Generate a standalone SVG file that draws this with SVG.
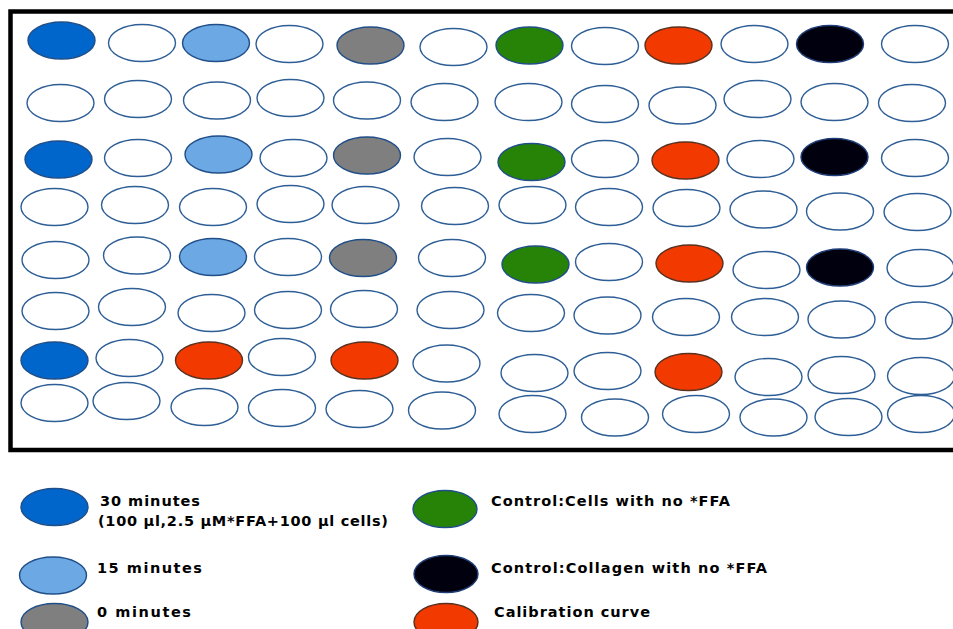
<svg xmlns="http://www.w3.org/2000/svg" width="953" height="629" viewBox="0 0 953 629">
<style>
  ellipse { stroke: #2E5E96; stroke-width: 1.4; }
  .w { fill: #ffffff; }
  .b30 { fill: #0066CC; stroke: #1F4E88; }
  .b15 { fill: #6CA9E4; stroke: #1F4E88; }
  .g0 { fill: #7F7F7F; stroke: #1F4E88; }
  .ctl { fill: #268307; stroke: #1F4E88; }
  .col { fill: #00000F; stroke: #1F3E78; }
  .cal { fill: #F23A00; stroke: #5A3020; }
  text { font-family: "DejaVu Sans", "Liberation Sans", sans-serif; font-weight: bold; font-size: 14.5px; fill: #000000; }
</style>
<rect x="0" y="0" width="953" height="629" fill="#ffffff"/>
<rect id="plate" x="10.5" y="11.5" width="960" height="438.5" fill="none" stroke="#000000" stroke-width="4.5"/>
<g id="wells">
  <!-- row 1 -->
  <g id="r1c1"><ellipse class="b30" cx="61.5" cy="40.5" rx="33.5" ry="18.5"/></g>
  <g id="r1c2"><ellipse class="w" cx="142" cy="43" rx="33.5" ry="18.5"/></g>
  <g id="r1c3"><ellipse class="b15" cx="216" cy="43" rx="33.5" ry="18.5"/></g>
  <g id="r1c4"><ellipse class="w" cx="289.5" cy="44" rx="33.5" ry="18.5"/></g>
  <g id="r1c5"><ellipse class="g0" cx="370.5" cy="45.5" rx="33.5" ry="18.5"/></g>
  <g id="r1c6"><ellipse class="w" cx="453.5" cy="47" rx="33.5" ry="18.5"/></g>
  <g id="r1c7"><ellipse class="ctl" cx="529.5" cy="45.5" rx="33.5" ry="18.5"/></g>
  <g id="r1c8"><ellipse class="w" cx="605" cy="46" rx="33.5" ry="18.5"/></g>
  <g id="r1c9"><ellipse class="cal" cx="678.5" cy="45.5" rx="33.5" ry="18.5"/></g>
  <g id="r1c10"><ellipse class="w" cx="754.5" cy="44" rx="33.5" ry="18.5"/></g>
  <g id="r1c11"><ellipse class="col" cx="830" cy="44" rx="33.5" ry="18.5"/></g>
  <g id="r1c12"><ellipse class="w" cx="915" cy="44" rx="33.5" ry="18.5"/></g>
  <!-- row 2 -->
  <g id="r2c1"><ellipse class="w" cx="60.5" cy="103" rx="33.5" ry="18.5"/></g>
  <g id="r2c2"><ellipse class="w" cx="138" cy="99" rx="33.5" ry="18.5"/></g>
  <g id="r2c3"><ellipse class="w" cx="217" cy="100.5" rx="33.5" ry="18.5"/></g>
  <g id="r2c4"><ellipse class="w" cx="290.5" cy="98" rx="33.5" ry="18.5"/></g>
  <g id="r2c5"><ellipse class="w" cx="367" cy="100.5" rx="33.5" ry="18.5"/></g>
  <g id="r2c6"><ellipse class="w" cx="444.5" cy="102" rx="33.5" ry="18.5"/></g>
  <g id="r2c7"><ellipse class="w" cx="528.5" cy="102" rx="33.5" ry="18.5"/></g>
  <g id="r2c8"><ellipse class="w" cx="605" cy="104" rx="33.5" ry="18.5"/></g>
  <g id="r2c9"><ellipse class="w" cx="682.5" cy="105.5" rx="33.5" ry="18.5"/></g>
  <g id="r2c10"><ellipse class="w" cx="757.5" cy="99" rx="33.5" ry="18.5"/></g>
  <g id="r2c11"><ellipse class="w" cx="834.5" cy="102" rx="33.5" ry="18.5"/></g>
  <g id="r2c12"><ellipse class="w" cx="912" cy="103" rx="33.5" ry="18.5"/></g>
  <!-- row 3 -->
  <g id="r3c1"><ellipse class="b30" cx="58.5" cy="159.5" rx="33.5" ry="18.5"/></g>
  <g id="r3c2"><ellipse class="w" cx="138" cy="158" rx="33.5" ry="18.5"/></g>
  <g id="r3c3"><ellipse class="b15" cx="218.5" cy="154.5" rx="33.5" ry="18.5"/></g>
  <g id="r3c4"><ellipse class="w" cx="293.5" cy="158" rx="33.5" ry="18.5"/></g>
  <g id="r3c5"><ellipse class="g0" cx="367" cy="155.5" rx="33.5" ry="18.5"/></g>
  <g id="r3c6"><ellipse class="w" cx="447.5" cy="157" rx="33.5" ry="18.5"/></g>
  <g id="r3c7"><ellipse class="ctl" cx="531.5" cy="162" rx="33.5" ry="18.5"/></g>
  <g id="r3c8"><ellipse class="w" cx="605" cy="159" rx="33.5" ry="18.5"/></g>
  <g id="r3c9"><ellipse class="cal" cx="685.5" cy="160.5" rx="33.5" ry="18.5"/></g>
  <g id="r3c10"><ellipse class="w" cx="760.5" cy="159" rx="33.5" ry="18.5"/></g>
  <g id="r3c11"><ellipse class="col" cx="834.5" cy="157" rx="33.5" ry="18.5"/></g>
  <g id="r3c12"><ellipse class="w" cx="915" cy="158" rx="33.5" ry="18.5"/></g>
  <!-- row 4 -->
  <g id="r4c1"><ellipse class="w" cx="54.5" cy="207" rx="33.5" ry="18.5"/></g>
  <g id="r4c2"><ellipse class="w" cx="135" cy="205" rx="33.5" ry="18.5"/></g>
  <g id="r4c3"><ellipse class="w" cx="213" cy="207" rx="33.5" ry="18.5"/></g>
  <g id="r4c4"><ellipse class="w" cx="290.5" cy="204" rx="33.5" ry="18.5"/></g>
  <g id="r4c5"><ellipse class="w" cx="365.5" cy="205" rx="33.5" ry="18.5"/></g>
  <g id="r4c6"><ellipse class="w" cx="455" cy="206" rx="33.5" ry="18.5"/></g>
  <g id="r4c7"><ellipse class="w" cx="532.5" cy="205" rx="33.5" ry="18.5"/></g>
  <g id="r4c8"><ellipse class="w" cx="609" cy="207" rx="33.5" ry="18.5"/></g>
  <g id="r4c9"><ellipse class="w" cx="686.5" cy="208" rx="33.5" ry="18.5"/></g>
  <g id="r4c10"><ellipse class="w" cx="763.5" cy="209.5" rx="33.5" ry="18.5"/></g>
  <g id="r4c11"><ellipse class="w" cx="840" cy="211.5" rx="33.5" ry="18.5"/></g>
  <g id="r4c12"><ellipse class="w" cx="917.5" cy="212" rx="33.5" ry="18.5"/></g>
  <!-- row 5 -->
  <g id="r5c1"><ellipse class="w" cx="55.5" cy="260" rx="33.5" ry="18.5"/></g>
  <g id="r5c2"><ellipse class="w" cx="137" cy="255.5" rx="33.5" ry="18.5"/></g>
  <g id="r5c3"><ellipse class="b15" cx="213" cy="257" rx="33.5" ry="18.5"/></g>
  <g id="r5c4"><ellipse class="w" cx="288" cy="257" rx="33.5" ry="18.5"/></g>
  <g id="r5c5"><ellipse class="g0" cx="363" cy="258" rx="33.5" ry="18.5"/></g>
  <g id="r5c6"><ellipse class="w" cx="452" cy="258" rx="33.5" ry="18.5"/></g>
  <g id="r5c7"><ellipse class="ctl" cx="535.5" cy="264.5" rx="33.5" ry="18.5"/></g>
  <g id="r5c8"><ellipse class="w" cx="609" cy="262" rx="33.5" ry="18.5"/></g>
  <g id="r5c9"><ellipse class="cal" cx="689.5" cy="263.5" rx="33.5" ry="18.5"/></g>
  <g id="r5c10"><ellipse class="w" cx="766.5" cy="270" rx="33.5" ry="18.5"/></g>
  <g id="r5c11"><ellipse class="col" cx="840" cy="267.5" rx="33.5" ry="18.5"/></g>
  <g id="r5c12"><ellipse class="w" cx="920.5" cy="268" rx="33.5" ry="18.5"/></g>
  <!-- row 6 -->
  <g id="r6c1"><ellipse class="w" cx="55.5" cy="311" rx="33.5" ry="18.5"/></g>
  <g id="r6c2"><ellipse class="w" cx="132" cy="307" rx="33.5" ry="18.5"/></g>
  <g id="r6c3"><ellipse class="w" cx="211.5" cy="313" rx="33.5" ry="18.5"/></g>
  <g id="r6c4"><ellipse class="w" cx="288" cy="310" rx="33.5" ry="18.5"/></g>
  <g id="r6c5"><ellipse class="w" cx="364" cy="309" rx="33.5" ry="18.5"/></g>
  <g id="r6c6"><ellipse class="w" cx="450.5" cy="310" rx="33.5" ry="18.5"/></g>
  <g id="r6c7"><ellipse class="w" cx="531" cy="313" rx="33.5" ry="18.5"/></g>
  <g id="r6c8"><ellipse class="w" cx="607.5" cy="315.5" rx="33.5" ry="18.5"/></g>
  <g id="r6c9"><ellipse class="w" cx="686" cy="317" rx="33.5" ry="18.5"/></g>
  <g id="r6c10"><ellipse class="w" cx="765" cy="317" rx="33.5" ry="18.5"/></g>
  <g id="r6c11"><ellipse class="w" cx="841.5" cy="319.5" rx="33.5" ry="18.5"/></g>
  <g id="r6c12"><ellipse class="w" cx="919" cy="320.5" rx="33.5" ry="18.5"/></g>
  <!-- row 7 -->
  <g id="r7c1"><ellipse class="b30" cx="54.5" cy="360.5" rx="33.5" ry="18.5"/></g>
  <g id="r7c2"><ellipse class="w" cx="129.5" cy="358" rx="33.5" ry="18.5"/></g>
  <g id="r7c3"><ellipse class="cal" cx="209" cy="360.5" rx="33.5" ry="18.5"/></g>
  <g id="r7c4"><ellipse class="w" cx="282" cy="357" rx="33.5" ry="18.5"/></g>
  <g id="r7c5"><ellipse class="cal" cx="364.5" cy="360.5" rx="33.5" ry="18.5"/></g>
  <g id="r7c6"><ellipse class="w" cx="446.5" cy="363.5" rx="33.5" ry="18.5"/></g>
  <g id="r7c7"><ellipse class="w" cx="534.5" cy="373" rx="33.5" ry="18.5"/></g>
  <g id="r7c8"><ellipse class="w" cx="607.5" cy="371" rx="33.5" ry="18.5"/></g>
  <g id="r7c9"><ellipse class="cal" cx="688.5" cy="372" rx="33.5" ry="18.5"/></g>
  <g id="r7c10"><ellipse class="w" cx="768.5" cy="377" rx="33.5" ry="18.5"/></g>
  <g id="r7c11"><ellipse class="w" cx="841.5" cy="375" rx="33.5" ry="18.5"/></g>
  <g id="r7c12"><ellipse class="w" cx="921" cy="376" rx="33.5" ry="18.5"/></g>
  <!-- row 8 -->
  <g id="r8c1"><ellipse class="w" cx="54.5" cy="403" rx="33.5" ry="18.5"/></g>
  <g id="r8c2"><ellipse class="w" cx="126.5" cy="401" rx="33.5" ry="18.5"/></g>
  <g id="r8c3"><ellipse class="w" cx="204.5" cy="407" rx="33.5" ry="18.5"/></g>
  <g id="r8c4"><ellipse class="w" cx="282" cy="408" rx="33.5" ry="18.5"/></g>
  <g id="r8c5"><ellipse class="w" cx="359.5" cy="409" rx="33.5" ry="18.5"/></g>
  <g id="r8c6"><ellipse class="w" cx="442" cy="410.5" rx="33.5" ry="18.5"/></g>
  <g id="r8c7"><ellipse class="w" cx="532.5" cy="414" rx="33.5" ry="18.5"/></g>
  <g id="r8c8"><ellipse class="w" cx="615" cy="417.5" rx="33.5" ry="18.5"/></g>
  <g id="r8c9"><ellipse class="w" cx="696" cy="414" rx="33.5" ry="18.5"/></g>
  <g id="r8c10"><ellipse class="w" cx="773.5" cy="417.5" rx="33.5" ry="18.5"/></g>
  <g id="r8c11"><ellipse class="w" cx="848.5" cy="417" rx="33.5" ry="18.5"/></g>
  <g id="r8c12"><ellipse class="w" cx="921" cy="414" rx="33.5" ry="18.5"/></g>
</g>
<g id="connectors"></g>
<g id="legend">
  <g id="leg-30min">
    <ellipse class="b30" cx="54.5" cy="507" rx="33.5" ry="18.5"/>
    <text x="100" y="506" textLength="100">30 minutes</text>
    <text x="98" y="526" textLength="290">(100 µl,2.5 µM*FFA+100 µl cells)</text>
  </g>
  <g id="leg-15min">
    <ellipse class="b15" cx="53" cy="575.5" rx="33.5" ry="18.5"/>
    <text x="97" y="573" textLength="105">15 minutes</text>
  </g>
  <g id="leg-0min">
    <ellipse class="g0" cx="54.5" cy="622" rx="33.5" ry="18.5"/>
    <text x="97" y="617" textLength="94">0 minutes</text>
  </g>
  <g id="leg-cells">
    <ellipse class="ctl" cx="445" cy="509" rx="32" ry="18.5"/>
    <text x="491" y="506" textLength="239">Control:Cells with no *FFA</text>
  </g>
  <g id="leg-collagen">
    <ellipse class="col" cx="446" cy="574" rx="32" ry="18.5"/>
    <text x="491" y="573" textLength="276">Control:Collagen with no *FFA</text>
  </g>
  <g id="leg-cal">
    <ellipse class="cal" cx="446" cy="622" rx="32" ry="18.5"/>
    <text x="494" y="617" textLength="156">Calibration curve</text>
  </g>
</g>
</svg>
